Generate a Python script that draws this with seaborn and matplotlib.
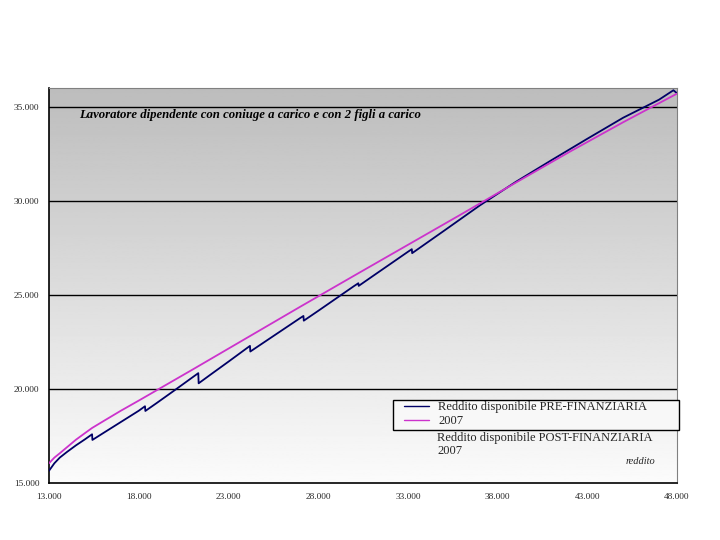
import numpy as np
import pandas as pd
import seaborn as sns
import matplotlib
matplotlib.use("Agg")
import matplotlib.pyplot as plt
from matplotlib.lines import Line2D
from matplotlib.patches import Rectangle
from matplotlib.ticker import FuncFormatter

# reddito lordo (asse x) e reddito disponibile (asse y)
pre_x = [13000, 13300, 13600, 14000, 14500, 15000, 15400, 15420, 16000, 17000, 18000, 18350,
         18370, 19000, 20000, 21000, 21320, 21340, 22000, 23000, 24000, 24200, 24220, 25000,
         26000, 27000, 27180, 27200, 28000, 29000, 30000, 30240, 30260, 31000, 32000, 33000,
         33220, 33240, 35000, 37000, 39000, 41000, 43000, 45000, 47000, 47800, 48000]
pre_y = [15650, 16050, 16350, 16650, 17000, 17320, 17590, 17290, 17640, 18240, 18840, 19080,
         18830, 19250, 19930, 20620, 20840, 20300, 20760, 21450, 22150, 22290, 21990, 22490,
         23130, 23770, 23880, 23630, 24150, 24810, 25470, 25620, 25480, 25970, 26630, 27290,
         27430, 27220, 28400, 29750, 31000, 32160, 33300, 34420, 35380, 35880, 35720]

post_x = [13000, 13300, 13600, 14000, 14500, 15000, 15400, 16000, 17000, 18000, 21000, 24000,
          27000, 30000, 33000, 36000, 39000, 42000, 45000, 48000]
post_y = [16050, 16350, 16580, 16900, 17300, 17650, 17925, 18270, 18840, 19380, 21030, 22700,
          24370, 26020, 27660, 29300, 30960, 32600, 34180, 35700]

x_ticks = [13000, 18000, 23000, 28000, 33000, 38000, 43000, 48000]
y_ticks = [15000, 20000, 25000, 30000, 35000]

label_pre = "Reddito disponibile PRE-FINANZIARIA"
label_post = "Reddito disponibile POST-FINANZIARIA"
title = "Lavoratore dipendente con coniuge a carico e con 2 figli a carico"

df = pd.concat([
    pd.DataFrame({"reddito": pre_x, "disponibile": pre_y, "serie": label_pre}),
    pd.DataFrame({"reddito": post_x, "disponibile": post_y, "serie": label_post}),
])

sns.set_style("white")
plt.rcParams["font.family"] = ["Liberation Serif", "DejaVu Serif"]

fig = plt.figure(figsize=(7.2, 5.4), dpi=100)
ax = fig.add_axes([49 / 720, 57 / 540, 628 / 720, 395 / 540])

# sfondo sfumato grigio (alto) -> bianco (basso)
grad = np.linspace(0.74, 0.985, 256).reshape(-1, 1)
ax.imshow(grad, extent=[0, 1, 0, 1], transform=ax.transAxes, cmap="gray",
          vmin=0, vmax=1, aspect="auto", zorder=0)

for yv in y_ticks[1:]:
    ax.axhline(yv, color="black", lw=1.0, zorder=1)

sns.lineplot(data=df, x="reddito", y="disponibile", hue="serie", estimator=None, sort=False,
             palette={label_pre: "#000066", label_post: "#cc33cc"},
             lw=1.3, ax=ax, legend=False, zorder=3)

ax.set_xlim(13000, 48000)
ax.set_ylim(15000, 36000)
ax.set_xticks(x_ticks)
ax.set_yticks(y_ticks)
fmt = FuncFormatter(lambda v, p: f"{int(v):,}".replace(",", "."))
ax.xaxis.set_major_formatter(fmt)
ax.yaxis.set_major_formatter(fmt)
ax.tick_params(length=0, labelsize=6.7, pad=7)
ax.set_xlabel("")
ax.set_ylabel("")

for s in ["top", "right"]:
    ax.spines[s].set_color("#808080")
for s in ["left", "bottom"]:
    ax.spines[s].set_color("black")
    ax.spines[s].set_linewidth(1.2)

ax.text(0.048, 0.932, title, transform=ax.transAxes, fontsize=9.2, style="italic",
        fontweight="bold", va="center", ha="left", color="black")

# riquadro della legenda (come nell'originale, racchiude solo le prime due righe)
ax.add_patch(Rectangle((0.548, 0.134), 0.455, 0.076, transform=ax.transAxes,
                       facecolor="#f8f8f8", edgecolor="black", lw=1, clip_on=False, zorder=4))
handles = [Line2D([], [], color="#000066", lw=1), Line2D([], [], color="#cc33cc", lw=1)]
leg = ax.legend(handles, [label_pre, "2007"], loc="upper left",
                bbox_to_anchor=(0.565, 0.207), fontsize=9, frameon=False,
                labelspacing=0.15, borderpad=0, handlelength=2.0, handletextpad=0.75,
                borderaxespad=0)
leg.set_zorder(5)

ax.text(0.618, 0.13, label_post + "\n2007", transform=ax.transAxes, fontsize=9,
        va="top", ha="left", linespacing=1.1, zorder=5)
ax.text(0.918, 0.055, "reddito", transform=ax.transAxes, fontsize=7.5, style="italic",
        va="center", ha="left", zorder=5)

fig.savefig("out.png", dpi=100)
